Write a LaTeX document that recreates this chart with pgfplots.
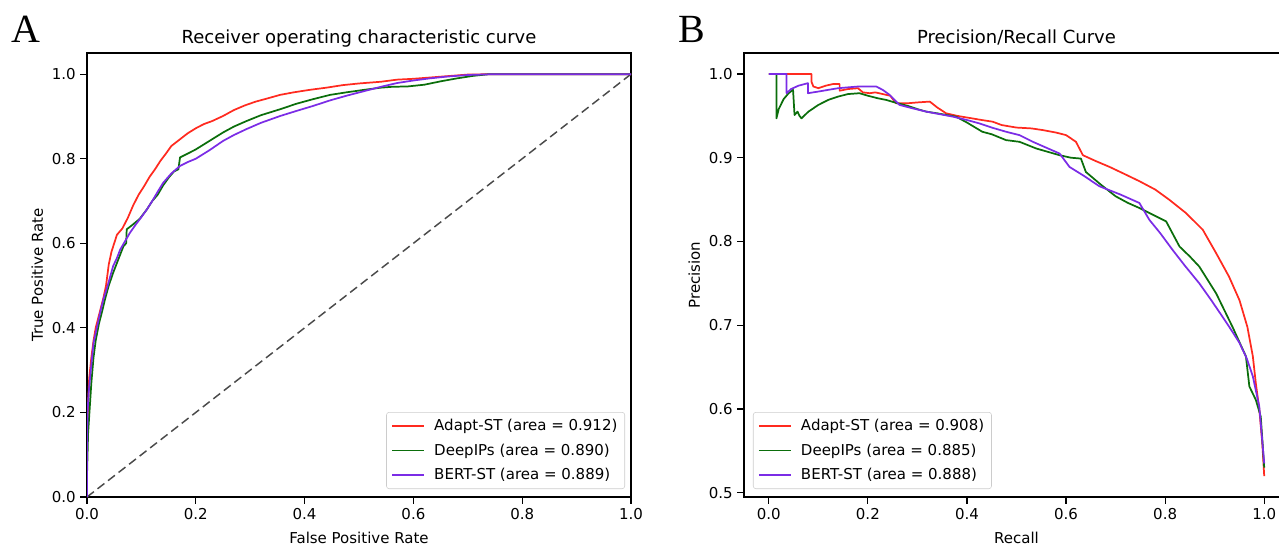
\documentclass[border=0pt]{standalone}
\usepackage{fontspec}
\setmainfont{DejaVu Sans}
\newfontfamily\panelfont{Liberation Serif}
\usepackage{pgfplots}
\pgfplotsset{compat=1.18}

\definecolor{cAdapt}{HTML}{FF2A1F}
\definecolor{cDeep}{HTML}{0B6E0B}
\definecolor{cBert}{HTML}{7B2CE6}
\definecolor{cDiag}{HTML}{4A4A4A}

% 1 px of the reference = 0.75pt
\pgfplotsset{
  panel/.style={
    scale only axis,
    height=333pt,
    axis line style={line width=0.9pt},
    tick align=outside, tick pos=left,
    major tick length=5pt,
    tick style={line width=0.9pt, black},
    /pgf/number format/assume math mode=true,
    xticklabel style={/pgf/number format/.cd, fixed, fixed zerofill, precision=1},
    yticklabel style={/pgf/number format/.cd, fixed, fixed zerofill, precision=1},
    title style={font=\fontsize{13.5}{16}\selectfont, at={(0.5,1)}, anchor=base, yshift=1.5pt},
    xlabel style={at={(axis description cs:0.5,0)}, anchor=base, yshift=-35pt},
    ylabel style={anchor=base},
    legend cell align=left,
    legend style={draw=black!20, rounded corners=2pt, fill=white,
      inner xsep=3.5pt, inner ysep=3.4pt, row sep=4.2pt, column sep=5pt,
      font=\fontsize{11.25}{13.5}\selectfont},
    legend image code/.code={\draw[##1, line width=1.3pt] (0pt,0pt) -- (24pt,0pt);},
  }
}

\begin{document}
\begin{tikzpicture}[font=\fontsize{11.25}{13.5}\selectfont]

\node[font=\panelfont\fontsize{30}{32}\selectfont, anchor=base] at (25.5*0.75pt, -42*0.75pt) {A};
\node[font=\panelfont\fontsize{30}{32}\selectfont, anchor=base] at (692*0.75pt, -42*0.75pt) {B};

% ---------------- ROC ----------------
\begin{axis}[
    panel,
    at={(87*0.75pt, -497*0.75pt)},
    width=408pt,
    xmin=0, xmax=1, ymin=0, ymax=1.05,
    xtick={0,0.2,0.4,0.6,0.8,1.0},
    ytick={0,0.2,0.4,0.6,0.8,1.0},
    title={Receiver operating characteristic curve},
    xlabel={False Positive Rate},
    ylabel={True Positive Rate},
    ylabel style={at={(axis description cs:-0.081,0.5)}},
    legend style={at={(0.989,0.018)}, anchor=south east},
]
\addplot[cDiag, line width=1.1pt, dash pattern=on 6.5pt off 3.5pt, forget plot] coordinates {(0,0) (1,1)};

\addplot[cAdapt, line width=1.3pt, line join=round] coordinates {
 (0,0) (0,0.12) (0.002,0.22) (0.004,0.28) (0.008,0.33) (0.012,0.37) (0.016,0.40)
 (0.02,0.42) (0.026,0.45) (0.03,0.47) (0.035,0.50) (0.04,0.55) (0.045,0.58)
 (0.05,0.60) (0.055,0.62) (0.065,0.635) (0.075,0.66) (0.085,0.69) (0.095,0.715)
 (0.105,0.735) (0.115,0.757) (0.125,0.775) (0.135,0.795) (0.145,0.812)
 (0.155,0.83) (0.17,0.845) (0.185,0.86) (0.2,0.872) (0.215,0.882) (0.23,0.889)
 (0.25,0.901) (0.27,0.915) (0.29,0.926) (0.31,0.935) (0.33,0.942) (0.355,0.951)
 (0.38,0.957) (0.41,0.963) (0.44,0.968) (0.47,0.974) (0.5,0.978) (0.54,0.982)
 (0.57,0.987) (0.6,0.989) (0.63,0.992) (0.66,0.995) (0.7,0.999) (0.75,1) (1,1)
};
\addplot[cDeep, line width=1.3pt, line join=round] coordinates {
 (0,0) (0,0.05) (0.002,0.15) (0.005,0.21) (0.008,0.27) (0.012,0.33) (0.016,0.37)
 (0.022,0.41) (0.028,0.44) (0.033,0.467) (0.04,0.50) (0.048,0.53) (0.057,0.56)
 (0.067,0.593) (0.072,0.60) (0.073,0.633) (0.085,0.645) (0.097,0.658) (0.11,0.68)
 (0.12,0.70) (0.13,0.715) (0.14,0.737) (0.15,0.755) (0.16,0.77) (0.168,0.775)
 (0.171,0.803) (0.185,0.812) (0.2,0.822) (0.22,0.838) (0.25,0.862) (0.27,0.876)
 (0.293,0.889) (0.32,0.903) (0.355,0.917) (0.385,0.93) (0.416,0.941)
 (0.447,0.951) (0.477,0.957) (0.51,0.963) (0.54,0.968) (0.56,0.97) (0.59,0.971)
 (0.62,0.975) (0.65,0.983) (0.68,0.99) (0.71,0.996) (0.74,1) (1,1)
};
\addplot[cBert, line width=1.3pt, line join=round] coordinates {
 (0,0) (0,0.1) (0.001,0.2) (0.003,0.246) (0.007,0.30) (0.012,0.364) (0.018,0.40)
 (0.024,0.435) (0.03,0.467) (0.038,0.50) (0.048,0.546) (0.055,0.565)
 (0.061,0.585) (0.07,0.605) (0.079,0.625) (0.09,0.645) (0.1,0.662) (0.11,0.68)
 (0.12,0.70) (0.13,0.722) (0.14,0.743) (0.155,0.765) (0.171,0.783) (0.185,0.792)
 (0.2,0.80) (0.225,0.82) (0.25,0.842) (0.27,0.856) (0.293,0.87) (0.32,0.885)
 (0.355,0.901) (0.385,0.913) (0.416,0.925) (0.447,0.938) (0.477,0.949)
 (0.51,0.96) (0.54,0.97) (0.57,0.979) (0.6,0.985) (0.63,0.99) (0.66,0.994)
 (0.7,0.998) (0.75,1) (1,1)
};
\legend{Adapt-ST (area = 0.912), DeepIPs (area = 0.890), BERT-ST (area = 0.889)}
\end{axis}

% ---------------- PR ----------------
\begin{axis}[
    panel,
    at={(744*0.75pt, -497*0.75pt)},
    width=408.75pt,
    xmin=-0.05, xmax=1.05, ymin=0.495, ymax=1.025,
    xtick={0,0.2,0.4,0.6,0.8,1.0},
    ytick={0.5,0.6,0.7,0.8,0.9,1.0},
    title={Precision/Recall Curve},
    xlabel={Recall},
    ylabel={Precision},
    ylabel style={at={(axis description cs:-0.081,0.5)}},
    legend style={at={(0.0165,0.018)}, anchor=south west},
]
\addplot[cAdapt, line width=1.3pt, line join=round] coordinates {
 (0,1) (0.086,1) (0.086,0.991) (0.09,0.985) (0.1,0.983) (0.115,0.986) (0.13,0.988)
 (0.143,0.988) (0.143,0.98) (0.16,0.982) (0.18,0.983) (0.19,0.978) (0.204,0.977)
 (0.215,0.978) (0.23,0.976) (0.245,0.974) (0.257,0.965) (0.28,0.965) (0.3,0.966)
 (0.325,0.967) (0.34,0.96) (0.358,0.953) (0.38,0.95) (0.4,0.948) (0.43,0.945)
 (0.452,0.943) (0.47,0.939) (0.5,0.936) (0.53,0.935) (0.553,0.933) (0.58,0.93)
 (0.6,0.927) (0.62,0.919) (0.634,0.903) (0.66,0.896) (0.688,0.889) (0.72,0.88)
 (0.748,0.872) (0.78,0.862) (0.808,0.85) (0.842,0.834) (0.876,0.814)
 (0.903,0.786) (0.929,0.758) (0.95,0.73) (0.966,0.698) (0.977,0.663)
 (0.983,0.631) (0.99,0.6) (0.996,0.56) (1,0.52)
};
\addplot[cDeep, line width=1.3pt, line join=round] coordinates {
 (0,1) (0.0155,1) (0.0155,0.947) (0.02,0.958) (0.03,0.97) (0.04,0.977)
 (0.049,0.981) (0.052,0.951) (0.058,0.955) (0.062,0.95) (0.066,0.947) (0.08,0.955)
 (0.1,0.963) (0.12,0.969) (0.14,0.973) (0.16,0.976) (0.183,0.977) (0.2,0.974)
 (0.22,0.971) (0.237,0.969) (0.26,0.965) (0.28,0.962) (0.3,0.958) (0.318,0.955)
 (0.34,0.953) (0.378,0.949) (0.4,0.942) (0.431,0.931) (0.45,0.928) (0.479,0.921)
 (0.506,0.919) (0.54,0.911) (0.587,0.903) (0.61,0.9) (0.63,0.899) (0.64,0.883)
 (0.67,0.868) (0.70,0.854) (0.725,0.846) (0.748,0.840) (0.775,0.832)
 (0.802,0.824) (0.829,0.794) (0.85,0.782) (0.869,0.770) (0.903,0.738)
 (0.936,0.698) (0.963,0.663) (0.97,0.627) (0.983,0.611) (0.993,0.591) (1,0.53)
};
\addplot[cBert, line width=1.3pt, line join=round] coordinates {
 (0,1) (0.036,1) (0.036,0.977) (0.045,0.982) (0.06,0.986) (0.079,0.989)
 (0.079,0.977) (0.1,0.979) (0.12,0.981) (0.14,0.983) (0.16,0.984) (0.18,0.985)
 (0.2,0.985) (0.217,0.985) (0.23,0.981) (0.244,0.975) (0.264,0.963) (0.29,0.959)
 (0.318,0.955) (0.345,0.952) (0.372,0.949) (0.4,0.945) (0.425,0.941) (0.45,0.936)
 (0.479,0.931) (0.506,0.927) (0.533,0.919) (0.56,0.912) (0.587,0.905)
 (0.607,0.889) (0.637,0.878) (0.667,0.866) (0.71,0.856) (0.748,0.846)
 (0.768,0.826) (0.79,0.81) (0.815,0.79) (0.84,0.771) (0.869,0.750) (0.893,0.73)
 (0.916,0.710) (0.935,0.693) (0.950,0.679) (0.965,0.66) (0.977,0.639)
 (0.990,0.603) (1,0.535)
};
\legend{Adapt-ST (area = 0.908), DeepIPs (area = 0.885), BERT-ST (area = 0.888)}
\end{axis}

\pgfresetboundingbox
\useasboundingbox (0,0) rectangle (959.25pt,-410.25pt);
\end{tikzpicture}
\end{document}
